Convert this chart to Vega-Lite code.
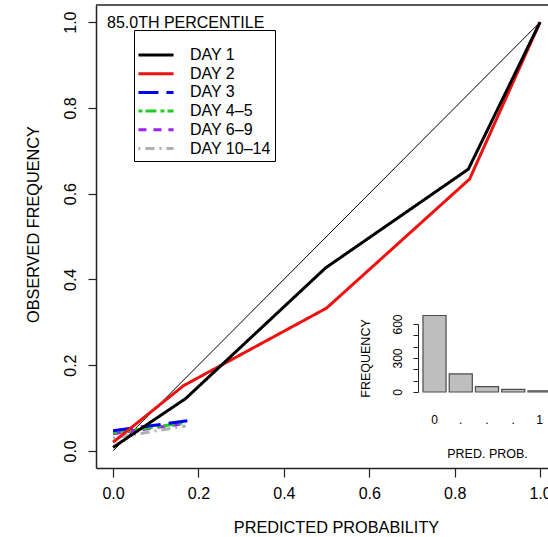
{
  "$schema": "https://vega.github.io/schema/vega-lite/v6.json",
  "width": 452,
  "height": 463,
  "autosize": "none",
  "padding": {"left": 96, "top": 5, "right": 0, "bottom": 69},
  "background": "white",
  "config": {
    "view": {"stroke": null},
    "font": "Liberation Sans",
    "axis": {"labelFont": "Liberation Sans", "titleFont": "Liberation Sans", "labelColor": "black", "titleColor": "black", "titleFontWeight": "normal", "grid": false, "domainColor": "#222222", "tickColor": "#222222", "labelFlush": false, "labelOverlap": false},
    "legend": {"labelFont": "Liberation Sans", "titleFont": "Liberation Sans"}
  },
  "title": {"text": "85.0TH PERCENTILE", "anchor": "start", "frame": "group", "orient": "top", "offset": 0, "dx": 11, "dy": 40, "fontSize": 16, "fontWeight": "normal", "font": "Liberation Sans", "color": "black", "baseline": "alphabetic"},
  "datasets": {
    "series": [
      {"series": "DAY 10–14", "p": 0, "o": 0.03},
      {"series": "DAY 10–14", "p": 0.17, "o": 0.058},
      {"series": "DAY 6–9", "p": 0, "o": 0.04},
      {"series": "DAY 6–9", "p": 0.17, "o": 0.064},
      {"series": "DAY 4–5", "p": 0, "o": 0.042},
      {"series": "DAY 4–5", "p": 0.17, "o": 0.066},
      {"series": "DAY 3", "p": 0, "o": 0.047},
      {"series": "DAY 3", "p": 0.174, "o": 0.07},
      {"series": "DAY 2", "p": 0, "o": 0.02},
      {"series": "DAY 2", "p": 0.165, "o": 0.152},
      {"series": "DAY 2", "p": 0.5, "o": 0.333},
      {"series": "DAY 2", "p": 0.835, "o": 0.634},
      {"series": "DAY 2", "p": 1, "o": 1},
      {"series": "DAY 1", "p": 0, "o": 0.008},
      {"series": "DAY 1", "p": 0.17, "o": 0.122},
      {"series": "DAY 1", "p": 0.498, "o": 0.427},
      {"series": "DAY 1", "p": 0.832, "o": 0.657},
      {"series": "DAY 1", "p": 1, "o": 1}
    ],
    "hist": [
      {"bin": 0, "freq": 675},
      {"bin": 1, "freq": 160},
      {"bin": 2, "freq": 47},
      {"bin": 3, "freq": 24},
      {"bin": 4, "freq": 11}
    ]
  },
  "layer": [
    {
      "layer": [
        {
          "data": {"values": [{}]},
          "mark": {"type": "rule", "color": "#222222", "strokeWidth": 1.5, "clip": false},
          "encoding": {
            "x": {"datum": -0.04, "type": "quantitative"},
            "x2": {"datum": 1.0186},
            "y": {"datum": 1.04, "type": "quantitative"}
          }
        },
        {
          "data": {"values": [{"p": 0, "o": 0}, {"p": 1, "o": 1}]},
          "mark": {"type": "line", "color": "black", "strokeWidth": 1},
          "encoding": {
            "x": {"field": "p", "type": "quantitative", "scale": {"domain": [-0.04, 1.0186], "nice": false, "zero": false},
                  "axis": {"orient": "bottom", "values": [0, 0.2, 0.4, 0.6, 0.8, 1], "format": ".1f", "labelFontSize": 16, "labelPadding": 8, "tickSize": 9, "tickWidth": 1.2, "domainWidth": 1.5, "title": "PREDICTED PROBABILITY", "titleFontSize": 16.3, "titleX": 240, "titleY": 59, "titleBaseline": "middle", "titleAlign": "center"}},
            "y": {"field": "o", "type": "quantitative", "scale": {"domain": [-0.04, 1.04], "nice": false, "zero": false},
                  "axis": {"orient": "left", "values": [0, 0.2, 0.4, 0.6, 0.8, 1], "format": ".1f", "labelAngle": -90, "labelAlign": "center", "labelBaseline": "bottom", "labelFontSize": 16, "labelPadding": 10, "tickSize": 8, "tickWidth": 1.2, "domainWidth": 1.5, "title": "OBSERVED FREQUENCY", "titleFontSize": 16.3, "titleX": -63, "titleY": 219, "titleAngle": -90, "titleBaseline": "middle", "titleAlign": "center"}}
          }
        },
        {
          "data": {"name": "series"},
          "mark": {"type": "line"},
          "encoding": {
            "x": {"field": "p", "type": "quantitative", "scale": {"domain": [-0.04, 1.0186], "nice": false, "zero": false},
                  "axis": {"orient": "bottom", "values": [0, 0.2, 0.4, 0.6, 0.8, 1], "format": ".1f", "labelFontSize": 16, "labelPadding": 8, "tickSize": 9, "tickWidth": 1.2, "domainWidth": 1.5, "title": "PREDICTED PROBABILITY", "titleFontSize": 16.3, "titleX": 240, "titleY": 59, "titleBaseline": "middle", "titleAlign": "center"}},
            "y": {"field": "o", "type": "quantitative", "scale": {"domain": [-0.04, 1.04], "nice": false, "zero": false},
                  "axis": {"orient": "left", "values": [0, 0.2, 0.4, 0.6, 0.8, 1], "format": ".1f", "labelAngle": -90, "labelAlign": "center", "labelBaseline": "bottom", "labelFontSize": 16, "labelPadding": 10, "tickSize": 8, "tickWidth": 1.2, "domainWidth": 1.5, "title": "OBSERVED FREQUENCY", "titleFontSize": 16.3, "titleX": -63, "titleY": 219, "titleAngle": -90, "titleBaseline": "middle", "titleAlign": "center"}},
            "color": {"field": "series", "type": "nominal",
                      "scale": {"domain": ["DAY 1", "DAY 2", "DAY 3", "DAY 4–5", "DAY 6–9", "DAY 10–14"], "range": ["#000000", "#ee1111", "#0000ee", "#22cc22", "#a020f0", "#b0b0b0"]},
                      "legend": {"orient": "none", "legendX": 38, "legendY": 25, "fillColor": "white", "strokeColor": "black", "padding": 4, "cornerRadius": 0, "labelFontSize": 16, "labelColor": "black", "symbolType": "M-4,0H4", "symbolSize": 77, "symbolOffset": 10, "labelOffset": 26, "rowPadding": 2.7, "title": " ", "titleFontSize": 6, "titlePadding": 7}},
            "strokeDash": {"field": "series", "type": "nominal",
                      "scale": {"domain": ["DAY 1", "DAY 2", "DAY 3", "DAY 4–5", "DAY 6–9", "DAY 10–14"], "range": [[1, 0], [1, 0], [20, 8], [4, 3, 11, 4], [8, 7], [2, 5, 9, 5]]}},
            "strokeWidth": {"field": "series", "type": "nominal",
                      "scale": {"domain": ["DAY 1", "DAY 2", "DAY 3", "DAY 4–5", "DAY 6–9", "DAY 10–14"], "range": [3, 3, 3.5, 2, 2, 1.5]}}
          }
        }
      ]
    },
    {
      "data": {"name": "hist"},
      "mark": {"type": "bar", "fill": "#bebebe", "stroke": "#4d4d4d", "strokeWidth": 1.2},
      "encoding": {
        "x": {"field": "bin", "type": "ordinal", "scale": {"range": [325.4, 456.6], "paddingInner": 0.12, "paddingOuter": 0.06},
              "axis": {"orient": "bottom", "offset": -68, "domain": false, "ticks": false, "tickSize": 0, "labelExpr": "datum.value == 0 ? '0' : datum.value == 4 ? '1' : '.'", "labelAngle": 0, "labelFontSize": 12, "labelPadding": 14, "title": "PRED. PROB.", "titleFontSize": 12.5, "titleY": 53, "titleBaseline": "middle"}},
        "y": {"field": "freq", "type": "quantitative", "scale": {"domain": [0, 600], "range": [387, 319], "nice": false, "zero": true},
              "axis": {"orient": "left", "offset": -322, "values": [0, 100, 200, 300, 400, 500, 600], "labelExpr": "datum.value % 300 == 0 ? datum.label : ''", "labelAngle": -90, "labelAlign": "center", "labelBaseline": "bottom", "labelFontSize": 12, "labelPadding": 9, "tickSize": 5, "domainWidth": 1, "title": "FREQUENCY", "titleFontSize": 12.5, "titleX": -53, "titleAngle": -90, "titleBaseline": "middle"}}
      }
    }
  ],
  "resolve": {"scale": {"x": "independent", "y": "independent"}}
}
